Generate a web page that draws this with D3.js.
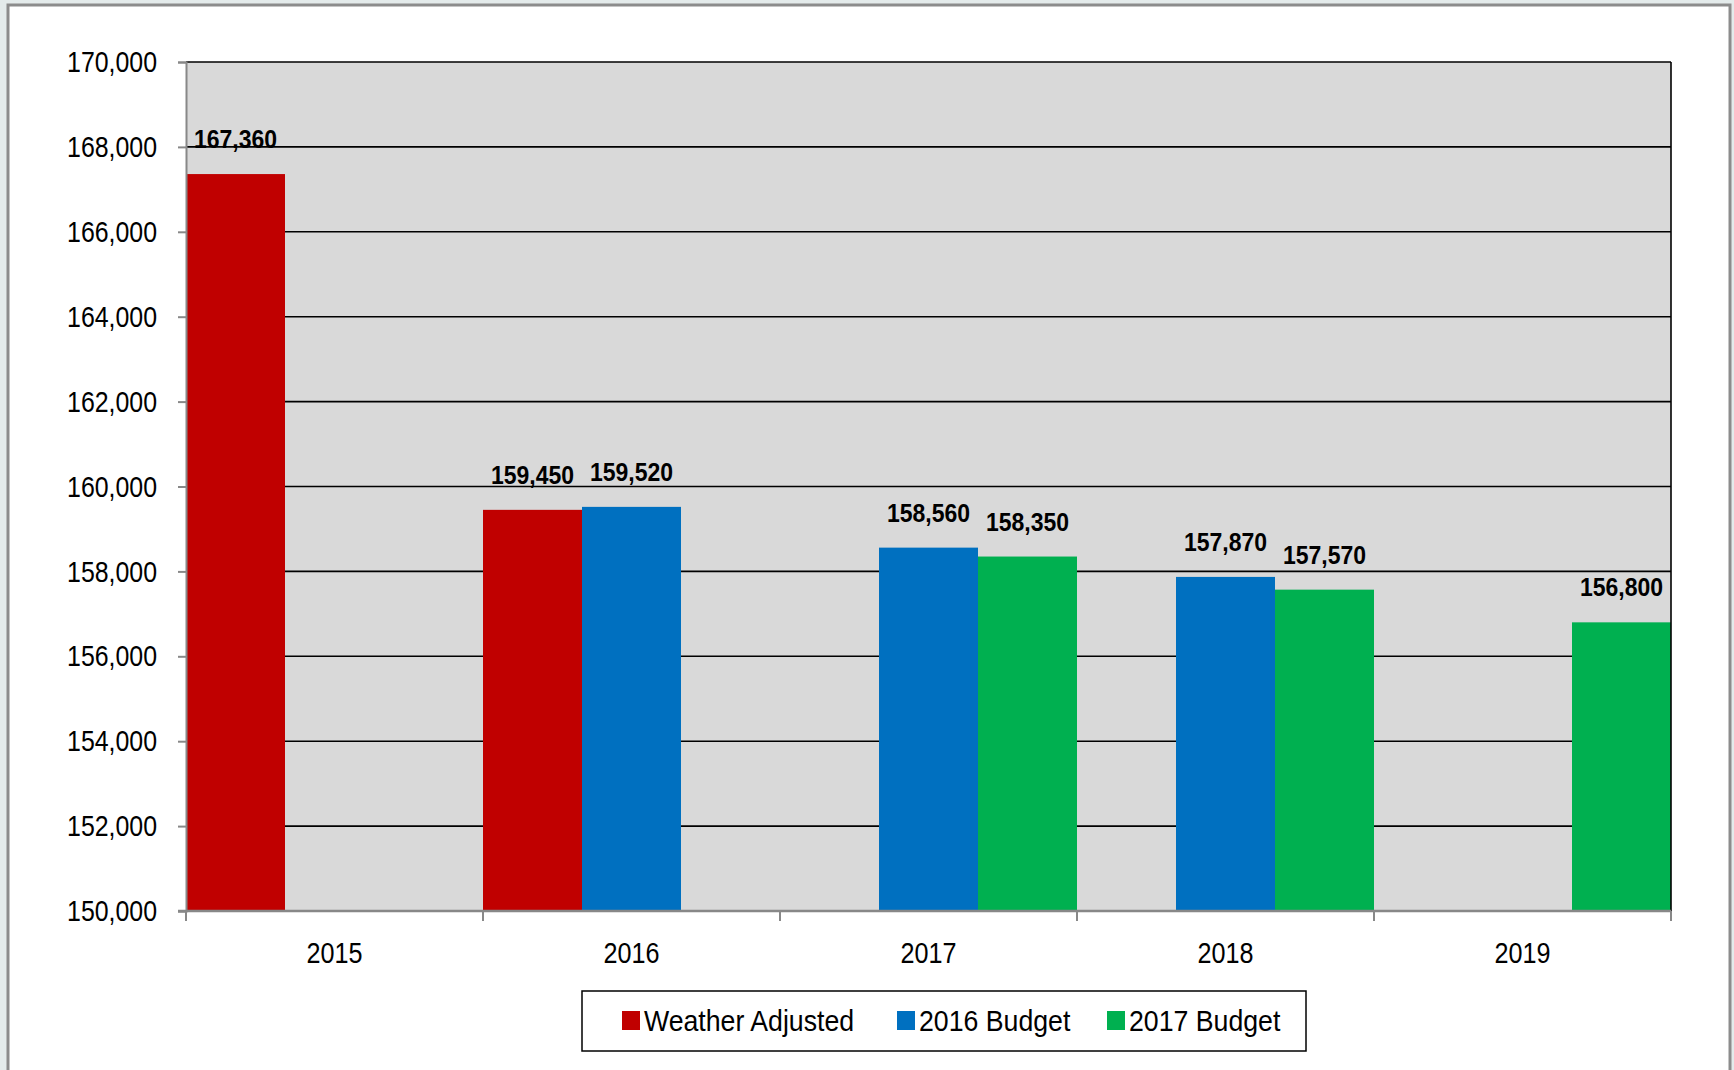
<!DOCTYPE html>
<html>
<head>
<meta charset="utf-8">
<script src="https://cdn.jsdelivr.net/npm/d3@7"></script>
<style>
    body { margin: 0; background: #e4ebeb; }
    svg { display: block; }
    text { font-family: "Liberation Sans", Arial, sans-serif; }
</style>
</head>
<body>
<div id="chart"></div>
<script>
// data
var years = ["2015", "2016", "2017", "2018", "2019"];
var seriesNames = ["Weather Adjusted", "2016 Budget", "2017 Budget"];
var seriesColors = ["#c00000", "#0070c0", "#00b050"];
var weatherAdjusted = [167360, 159450, null, null, null];
var budget2016 = [null, 159520, 158560, 157870, null];
var budget2017 = [null, null, 158350, 157570, 156800];
var yTicks = [150000, 152000, 154000, 156000, 158000, 160000, 162000, 164000, 166000, 168000, 170000];

// narrow the glyphs horizontally (the original uses a condensed face)
function squeeze(sel, f){
    sel.each(function () {
        var t = d3.select(this);
        var tx = +t.attr("x") || 0, ty = +t.attr("y") || 0;
        t.attr("x", 0).attr("y", 0)
            .attr("transform", "translate(" + tx + "," + ty + ") scale(" + f + ",1)");
    });
}

function BudgetChart(){
    var W = 1734, H = 1070;
    var margin = {top: 62, right: 63, bottom: 159, left: 186},
        width = W - margin.left - margin.right,
        height = H - margin.top - margin.bottom;

    var svg0 = d3.select("#chart")
        .append("svg")
        .attr("width", W)
        .attr("height", H);

    // outer frame
    svg0.append("rect")
        .attr("x", 8).attr("y", 5)
        .attr("width", 1722).attr("height", 1080)
        .style("fill", "#ffffff")
        .style("stroke", "#8c8c8c")
        .style("stroke-width", 3);

    var svg = svg0.append("g")
        .attr("transform", "translate(" + margin.left + "," + margin.top + ")");

    var x = d3.scaleBand()
        .domain(years)
        .range([0, width])
        .padding(0);

    var xs = d3.scaleBand()
        .domain(seriesNames)
        .range([0, x.bandwidth()])
        .padding(0);

    var y = d3.scaleLinear()
        .domain([150000, 170000])
        .range([height, 0]);

    // plot background
    svg.append("rect")
        .attr("width", width)
        .attr("height", height)
        .style("fill", "#d9d9d9");

    // gridlines
    svg.append("g")
        .selectAll("line")
        .data(yTicks.slice(1))
        .enter()
        .append("line")
        .attr("x1", 0)
        .attr("x2", width)
        .attr("y1", function (d) { return y(d); })
        .attr("y2", function (d) { return y(d); })
        .style("stroke", "#000")
        .style("stroke-width", 1.6);

    // bars
    var all = [weatherAdjusted, budget2016, budget2017];
    var rows = [];
    all.forEach(function (vals, si) {
        vals.forEach(function (v, i) {
            if (v != null) rows.push({year: years[i], series: seriesNames[si], color: seriesColors[si], value: v});
        });
    });

    svg.append("g")
        .selectAll("rect")
        .data(rows)
        .enter()
        .append("rect")
        .attr("x", function (d) { return x(d.year) + xs(d.series); })
        .attr("y", function (d) { return y(d.value); })
        .attr("width", xs.bandwidth())
        .attr("height", function (d) { return height - y(d.value); })
        .style("fill", function (d) { return d.color; });

    // right border of plot
    svg.append("line")
        .attr("x1", width).attr("x2", width)
        .attr("y1", 0).attr("y2", height)
        .style("stroke", "#000")
        .style("stroke-width", 1.6);

    // value labels
    var vl = svg.append("g")
        .selectAll("text")
        .data(rows)
        .enter()
        .append("text")
        .attr("x", function (d) { return x(d.year) + xs(d.series) + xs.bandwidth() / 2; })
        .attr("y", function (d) { return y(d.value) - 26; })
        .attr("text-anchor", "middle")
        .style("font-size", "25px")
        .style("font-weight", "bold")
        .style("fill", "#000")
        .text(function (d) { return d3.format(",")(d.value); });
    squeeze(vl, 0.92);

    // y axis
    var yAxis = svg.append("g")
        .call(d3.axisLeft(y)
            .tickValues(yTicks)
            .tickFormat(d3.format(","))
            .tickSize(8)
            .tickPadding(21));
    yAxis.selectAll("text").style("font-size", "30px").style("fill", "#000");
    squeeze(yAxis.selectAll("text"), 0.83);
    yAxis.selectAll("line").style("stroke", "#888").style("stroke-width", 2);
    yAxis.select(".domain").style("stroke", "#888").style("stroke-width", 2);

    // x axis, ticks at the band edges
    var xAxis = svg.append("g")
        .attr("transform", "translate(0," + height + ")");
    xAxis.append("line")
        .attr("x1", -8).attr("x2", width)
        .style("stroke", "#888")
        .style("stroke-width", 2.5);
    xAxis.selectAll(".edge")
        .data(years.concat(["end"]))
        .enter()
        .append("line")
        .attr("class", "edge")
        .attr("x1", function (d, i) { return i * x.step(); })
        .attr("x2", function (d, i) { return i * x.step(); })
        .attr("y1", 0).attr("y2", 10)
        .style("stroke", "#888")
        .style("stroke-width", 2);
    var xl = xAxis.selectAll(".lbl")
        .data(years)
        .enter()
        .append("text")
        .attr("class", "lbl")
        .attr("x", function (d) { return x(d) + x.bandwidth() / 2; })
        .attr("y", 52)
        .attr("text-anchor", "middle")
        .style("font-size", "30px")
        .style("fill", "#000")
        .text(function (d) { return d; });
    squeeze(xl, 0.84);

    // legend
    var legend = svg0.append("g");
    legend.append("rect")
        .attr("x", 582).attr("y", 991)
        .attr("width", 724).attr("height", 60)
        .style("fill", "#fff")
        .style("stroke", "#000")
        .style("stroke-width", 1.5);
    var legX = [622, 897, 1107];
    var item = legend.selectAll(".item")
        .data(seriesNames)
        .enter()
        .append("g")
        .attr("class", "item")
        .attr("transform", function (d, i) { return "translate(" + legX[i] + ",1011)"; });
    item.append("rect")
        .attr("width", 18)
        .attr("height", 19)
        .style("fill", function (d, i) { return seriesColors[i]; });
    var lt = item.append("text")
        .attr("x", 22)
        .attr("y", 20)
        .style("font-size", "30px")
        .style("fill", "#000")
        .text(function (d) { return d; });
    squeeze(lt, 0.89);
}

BudgetChart();
</script>
</body>
</html>
